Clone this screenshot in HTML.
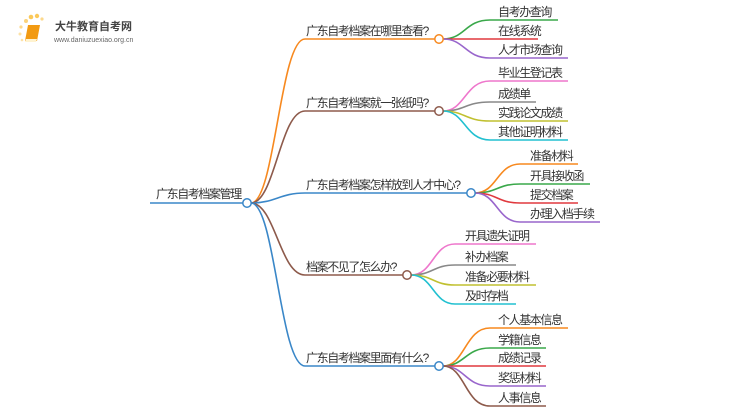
<!DOCTYPE html>
<html><head><meta charset="utf-8"><style>
html,body{margin:0;padding:0;background:#fff;width:750px;height:410px;overflow:hidden}
svg text{font-family:"Liberation Sans","Noto Sans CJK SC",sans-serif;fill:#333;font-size:12px;letter-spacing:-1.4px}
</style></head><body>
<svg width="750" height="410" viewBox="0 0 750 410" xmlns="http://www.w3.org/2000/svg" fill="none" stroke-width="1.6">
<!-- logo -->
<g stroke="none">
<circle cx="26" cy="21" r="2" fill="#fbd27a"/><circle cx="31" cy="17" r="2.3" fill="#fbc95a"/><circle cx="37" cy="16" r="2.2" fill="#fbc95a"/><circle cx="21" cy="27" r="1.6" fill="#fcd98c"/><circle cx="20" cy="34" r="1.5" fill="#fde2a6"/><circle cx="22" cy="40" r="1.3" fill="#fde2a6"/><circle cx="42" cy="19" r="1.6" fill="#fcd98c"/>
<path d="M28 25 L40 25 L37 41 L25 41 Z" fill="#f29a12"/>
<path d="M26 39 L37 39 L36 42 L25 42 Z" fill="#fff3d0"/>
</g>
<text x="55" y="30" style="font-size:11px;fill:#444;font-weight:bold;letter-spacing:0">大牛教育自考网</text>
<text x="54" y="42" style="font-size:7px;fill:#666;letter-spacing:0">www.daniuzuexiao.org.cn</text>

<!-- root -->
<text x="156" y="198">广东自考档案管理</text>
<path d="M150 203 H243" stroke="#3a87c8"/>
<!-- main branches -->
<path d="M251 203 C275 203 280 39 305 39 H435" stroke="#f7891f"/>
<path d="M251 203 C275 203 280 111 305 111 H435" stroke="#8d5a4b"/>
<path d="M251 203 C275 203 280 193 305 193 H467" stroke="#3a87c8"/>
<path d="M251 203 C275 203 280 275 305 275 H403" stroke="#8d5a4b"/>
<path d="M251 203 C275 203 280 366 305 366 H435" stroke="#3a87c8"/>
<text x="306" y="35">广东自考档案在哪里查看?</text>
<text x="306" y="107">广东自考档案就一张纸吗?</text>
<text x="306" y="189">广东自考档案怎样放到人才中心?</text>
<text x="306" y="271">档案不见了怎么办?</text>
<text x="306" y="362">广东自考档案里面有什么?</text>

<!-- branch1 leaves -->
<path d="M443 39 C465 39 465 20 490 20 H558" stroke="#3aa84a"/>
<path d="M443 39 H538" stroke="#e0393e"/>
<path d="M443 39 C465 39 465 58 490 58 H568" stroke="#9966cc"/>
<text x="498" y="16">自考办查询</text><text x="498" y="35">在线系统</text><text x="498" y="54">人才市场查询</text>
<!-- branch2 -->
<path d="M443 111 C465 111 465 81 490 81 H568" stroke="#ee77cc"/>
<path d="M443 111 C465 111 465 102 490 102 H536" stroke="#888"/>
<path d="M443 111 C465 111 465 121 490 121 H568" stroke="#c0c030"/>
<path d="M443 111 C465 111 465 140 490 140 H568" stroke="#22c0d0"/>
<text x="498" y="77">毕业生登记表</text><text x="498" y="98">成绩单</text><text x="498" y="117">实践论文成绩</text><text x="498" y="136">其他证明材料</text>
<!-- branch3 -->
<path d="M475 193 C497 193 497 164 520 164 H578" stroke="#f7891f"/>
<path d="M475 193 C497 193 497 184 520 184 H590" stroke="#3aa84a"/>
<path d="M475 193 C497 193 497 203 520 203 H578" stroke="#e0393e"/>
<path d="M475 193 C497 193 497 222 520 222 H600" stroke="#9966cc"/>
<text x="530" y="160">准备材料</text><text x="530" y="180">开具接收函</text><text x="530" y="199">提交档案</text><text x="530" y="218">办理入档手续</text>
<!-- branch4 -->
<path d="M411 275 C433 275 433 244 455 244 H536" stroke="#ee77cc"/>
<path d="M411 275 C433 275 433 265 455 265 H516" stroke="#888"/>
<path d="M411 275 C433 275 433 285 455 285 H536" stroke="#c0c030"/>
<path d="M411 275 C433 275 433 304 455 304 H516" stroke="#22c0d0"/>
<text x="465" y="240">开具遗失证明</text><text x="465" y="261">补办档案</text><text x="465" y="281">准备必要材料</text><text x="465" y="300">及时存档</text>
<!-- branch5 -->
<path d="M443 366 C465 366 465 328 490 328 H568" stroke="#f7891f"/>
<path d="M443 366 C465 366 465 348 490 348 H546" stroke="#3aa84a"/>
<path d="M443 366 H546" stroke="#e0393e"/>
<path d="M443 366 C465 366 465 386 490 386 H546" stroke="#9966cc"/>
<path d="M443 366 C465 366 465 406 490 406 H546" stroke="#8d5a4b"/>
<text x="498" y="324">个人基本信息</text><text x="498" y="344">学籍信息</text><text x="498" y="362">成绩记录</text><text x="498" y="382">奖惩材料</text><text x="498" y="402">人事信息</text>

<!-- circles -->
<g fill="#fff" stroke-width="1.5">
<circle cx="247" cy="203" r="4.2" stroke="#3a87c8"/>
<circle cx="439" cy="39" r="4.2" stroke="#f7891f"/>
<circle cx="439" cy="111" r="4.2" stroke="#8d5a4b"/>
<circle cx="471" cy="193" r="4.2" stroke="#3a87c8"/>
<circle cx="407" cy="275" r="4.2" stroke="#8d5a4b"/>
<circle cx="439" cy="366" r="4.2" stroke="#3a87c8"/>
</g>
</svg>
</body></html>
